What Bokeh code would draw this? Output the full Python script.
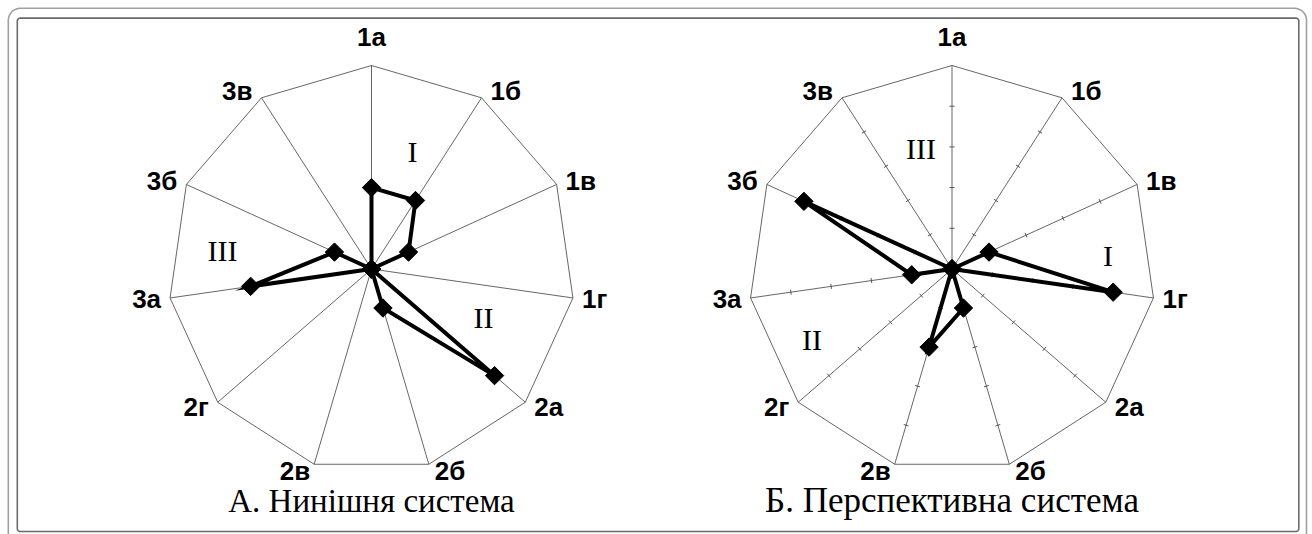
import numpy as np
from bokeh.plotting import figure
from bokeh.models import Range1d, ColumnDataSource
from bokeh.embed import file_html
from bokeh.resources import INLINE
from bokeh.core.properties import value

# ---------------- data ----------------
categories = ["1а", "1б", "1в", "1г", "2а", "2б", "2в", "2г", "3а", "3б", "3в"]
current_values = [2, 2, 1, 0, 4, 1, 0, 0, 3, 1, 0]      # А. Нинішня система
future_values = [0, 0, 1, 4, 0, 1, 2, 0, 1, 4, 0]       # Б. Перспективна система
scale_max = 5
titles = ["А. Нинішня система", "Б. Перспективна система"]
group_labels = ["I", "II", "III"]

# ---------------- layout (page px, y down) ----------------
W, H = 1312, 534
def fx(px):
    return px
def fy(py):
    return H - py

R = 203.5                      # px for scale_max
centers = [(371.0, 268.5), (951.5, 268.5)]
group_pos = [
    {"I": (41, -118), "II": (112, 48), "III": (-149, -19)},
    {"I": (156, -14), "II": (-140, 70), "III": (-31, -121)},
]
title_y = 500
title_sizes = ["33px", "35px"]
show_ticks = [False, True]

p = figure(width=W, height=H, x_range=Range1d(0, W), y_range=Range1d(0, H),
           min_border=0, toolbar_location=None, output_backend="svg")
p.axis.visible = False
p.grid.visible = False
p.outline_line_color = None
p.background_fill_color = "white"
p.border_fill_color = "white"

# ---------------- frames ----------------
def rounded_path(x0, y0, x1, y1, r, open_bottom=False):
    pts = []
    def arc(cx, cy, a0, a1):
        for a in np.linspace(a0, a1, 12):
            pts.append((cx + r * np.cos(a), cy + r * np.sin(a)))
    if open_bottom:
        pts.append((x0, y1))
        pts.append((x0, y0 + r))
        arc(x0 + r, y0 + r, np.pi, 1.5 * np.pi)
        arc(x1 - r, y0 + r, 1.5 * np.pi, 2 * np.pi)
        pts.append((x1, y1))
    else:
        arc(x0 + r, y0 + r, np.pi, 1.5 * np.pi)
        arc(x1 - r, y0 + r, 1.5 * np.pi, 2 * np.pi)
        arc(x1 - r, y1 - r, 0, 0.5 * np.pi)
        arc(x0 + r, y1 - r, 0.5 * np.pi, np.pi)
        pts.append(pts[0])
    return [fx(a) for a, b in pts], [fy(b) for a, b in pts]

ox, oy = rounded_path(7.8, 7.8, 1306, 560, 12, open_bottom=True)
p.line(ox, oy, line_color="#a0a0a0", line_width=1.6)
ix, iy = rounded_path(16.8, 17.6, 1298.3, 531, 3)
p.line(ix, iy, line_color="#6a6a6a", line_width=1.6)

# ---------------- radar charts ----------------
n = len(categories)
theta = np.arange(n) * 2 * np.pi / n
sin_t, cos_t = np.sin(theta), np.cos(theta)
unit = R / scale_max

for k, vals in enumerate([current_values, future_values]):
    cx, cy = centers[k]
    vx = cx + R * sin_t
    vy = cy - R * cos_t
    # spokes
    p.multi_line([[fx(cx), fx(x)] for x in vx], [[fy(cy), fy(y)] for y in vy],
                 line_color="#555555", line_width=0.9)
    # perimeter
    p.line([fx(x) for x in list(vx) + [vx[0]]], [fy(y) for y in list(vy) + [vy[0]]],
           line_color="#555555", line_width=0.9)
    # small ticks
    if show_ticks[k]:
        txs, tys = [], []
        for i in range(n):
            for s in range(1, scale_max):
                px_ = cx + s * unit * sin_t[i]
                py_ = cy - s * unit * cos_t[i]
                nx, ny = cos_t[i], sin_t[i]
                txs.append([fx(px_ - 2.5 * nx), fx(px_ + 2.5 * nx)])
                tys.append([fy(py_ - 2.5 * ny), fy(py_ + 2.5 * ny)])
        p.multi_line(txs, tys, line_color="#555555", line_width=1)
    # category labels
    lx, ly, la = [], [], []
    for i in range(n):
        s, c = sin_t[i], cos_t[i]
        if abs(s) < 0.1:
            lx.append(fx(vx[i])); ly.append(fy(vy[i] - 29)); la.append("center")
        else:
            dx = 9 if s > 0 else -9
            if c < -0.9:
                dx = 6 if s > 0 else -4
            lx.append(fx(vx[i] + dx)); ly.append(fy(vy[i] - 7.5 * c)); la.append("left" if s > 0 else "right")
    src = ColumnDataSource(dict(x=lx, y=ly, t=categories, a=la))
    p.text("x", "y", text="t", text_align="a", text_baseline="middle", source=src,
           text_font=value("Liberation Sans"), text_font_style="bold",
           text_font_size="26px", text_color="black")
    # group labels
    gx = [fx(cx + group_pos[k][g][0]) for g in group_labels]
    gy = [fy(cy + group_pos[k][g][1]) for g in group_labels]
    p.text(gx, gy, text=group_labels, text_align="center", text_baseline="middle",
           text_font=value("Liberation Serif"), text_font_size="30px", text_color="black")
    # data polygon
    v = np.array(vals, dtype=float)
    dxs = cx + v * unit * sin_t
    dys = cy - v * unit * cos_t
    px_list = [fx(x) for x in list(dxs) + [dxs[0]]]
    py_list = [fy(y) for y in list(dys) + [dys[0]]]
    p.line(px_list, py_list, line_color="black", line_width=4, line_join="miter")
    p.scatter(px_list[:-1], py_list[:-1], marker="square", angle=np.pi / 4, size=13,
              fill_color="black", line_color="black")
    # title
    p.text([fx(cx)], [fy(title_y)], text=[titles[k]], text_align="center",
           text_baseline="alphabetic", text_font=value("Liberation Serif"),
           text_font_size=title_sizes[k], text_color="black")

open("out.html", "w").write(file_html(p, INLINE))
